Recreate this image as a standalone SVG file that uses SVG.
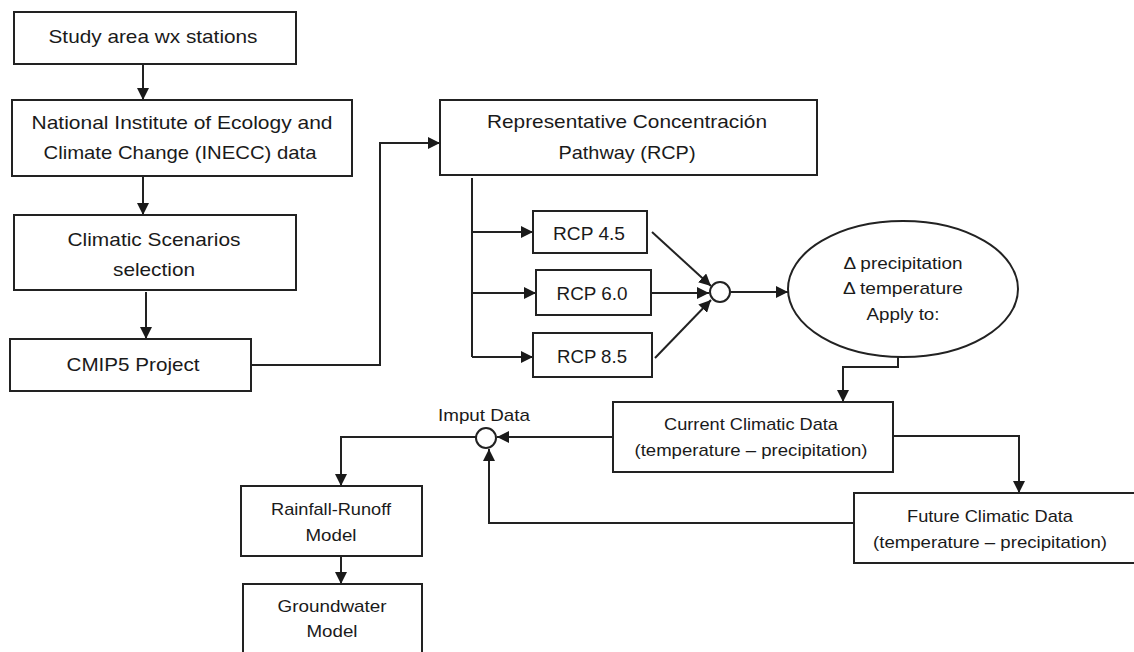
<svg xmlns="http://www.w3.org/2000/svg" width="1134" height="652" viewBox="0 0 1134 652">
<defs>
<marker id="ah" viewBox="0 0 12 12" refX="12" refY="6" markerWidth="12" markerHeight="12" markerUnits="userSpaceOnUse" orient="auto">
<path d="M0,0 L12,6 L0,12 z" fill="#1a1a1a"/>
</marker>
<style>
.box{fill:#fff;stroke:#222;stroke-width:2}
.c{fill:none;stroke:#222;stroke-width:2}
.a{fill:none;stroke:#222;stroke-width:2;marker-end:url(#ah)}
text{font-family:"Liberation Sans",Arial,sans-serif;font-size:19px;fill:#1a1a1a;text-anchor:middle}
.s{font-size:17px}
</style>
</defs>
<rect width="1134" height="652" fill="#fff"/>
<g id="connectors">
<line class="a" x1="143" y1="64" x2="143" y2="100"/>
<line class="a" x1="143" y1="176" x2="143" y2="215"/>
<line class="a" x1="146" y1="292" x2="146" y2="339"/>
<polyline class="a" points="251,365 380,365 380,143 440,143"/>
<line class="c" x1="472" y1="178" x2="472" y2="357"/>
<line class="a" x1="472" y1="232" x2="533" y2="232"/>
<line class="a" x1="472" y1="293" x2="536" y2="293"/>
<line class="a" x1="472" y1="357" x2="533" y2="357"/>
<line class="a" x1="652" y1="232" x2="711" y2="286"/>
<line class="a" x1="651" y1="293" x2="709" y2="293"/>
<line class="a" x1="655" y1="358" x2="711" y2="300"/>
<line class="a" x1="731" y1="292" x2="788" y2="292"/>
<polyline class="a" points="898,357 898,367 843,367 843,402"/>
<polyline class="a" points="893,436 1019,436 1019,493"/>
<line class="a" x1="613" y1="437" x2="497" y2="437"/>
<polyline class="a" points="854,523 489,523 489,449"/>
<polyline class="a" points="476,437 341,437 341,486"/>
<line class="a" x1="341" y1="556" x2="341" y2="584"/>
</g>
<g id="n-study"><rect class="box" x="14" y="12" width="282" height="52"/><text x="153" y="43" textLength="209" lengthAdjust="spacingAndGlyphs">Study area wx stations</text></g>
<g id="n-inecc"><rect class="box" x="12" y="100" width="340" height="76"/><text x="182" y="129" textLength="301" lengthAdjust="spacingAndGlyphs">National Institute of Ecology and</text><text x="180" y="159" textLength="273" lengthAdjust="spacingAndGlyphs">Climate Change (INECC) data</text></g>
<g id="n-scen"><rect class="box" x="14" y="215" width="282" height="75"/><text x="154" y="246" textLength="173" lengthAdjust="spacingAndGlyphs">Climatic Scenarios</text><text x="154" y="276" textLength="82" lengthAdjust="spacingAndGlyphs">selection</text></g>
<g id="n-cmip5"><rect class="box" x="10" y="339" width="241" height="52"/><text x="133" y="371" textLength="133" lengthAdjust="spacingAndGlyphs">CMIP5 Project</text></g>
<g id="n-rcp"><rect class="box" x="440" y="100" width="377" height="75"/><text x="627" y="128" textLength="280" lengthAdjust="spacingAndGlyphs">Representative Concentración</text><text x="627" y="159" textLength="137" lengthAdjust="spacingAndGlyphs">Pathway (RCP)</text></g>
<g id="n-rcp45"><rect class="box" x="533" y="211" width="114" height="42"/><text x="589" y="240" textLength="72" lengthAdjust="spacingAndGlyphs">RCP 4.5</text></g>
<g id="n-rcp60"><rect class="box" x="536" y="270" width="115" height="45"/><text x="592" y="300" textLength="71" lengthAdjust="spacingAndGlyphs">RCP 6.0</text></g>
<g id="n-rcp85"><rect class="box" x="533" y="333" width="119" height="44"/><text x="592" y="363" textLength="70" lengthAdjust="spacingAndGlyphs">RCP 8.5</text></g>
<g id="n-join1"><circle cx="720" cy="292" r="10" fill="#fff" stroke="#222" stroke-width="2"/></g>
<g id="n-delta"><ellipse cx="903" cy="289" rx="115" ry="68" fill="#fff" stroke="#222" stroke-width="2"/><text class="s" x="903" y="269" textLength="119" lengthAdjust="spacingAndGlyphs">Δ precipitation</text><text class="s" x="903" y="294" textLength="120" lengthAdjust="spacingAndGlyphs">Δ temperature</text><text class="s" x="903" y="320" textLength="73" lengthAdjust="spacingAndGlyphs">Apply to:</text></g>
<g id="n-current"><rect class="box" x="613" y="402" width="280" height="70"/><text class="s" x="751" y="430" textLength="174" lengthAdjust="spacingAndGlyphs">Current Climatic Data</text><text class="s" x="751" y="456" textLength="233" lengthAdjust="spacingAndGlyphs">(temperature – precipitation)</text></g>
<g id="n-future"><rect class="box" x="854" y="493" width="282" height="70"/><text class="s" x="990" y="522" textLength="166" lengthAdjust="spacingAndGlyphs">Future Climatic Data</text><text class="s" x="990" y="548" textLength="234" lengthAdjust="spacingAndGlyphs">(temperature – precipitation)</text></g>
<g id="n-input"><circle cx="486" cy="438" r="10" fill="#fff" stroke="#222" stroke-width="2"/><text class="s" x="484" y="421" textLength="92" lengthAdjust="spacingAndGlyphs">Imput Data</text></g>
<g id="n-rainfall"><rect class="box" x="241" y="486" width="181" height="70"/><text class="s" x="331" y="515" textLength="120" lengthAdjust="spacingAndGlyphs">Rainfall-Runoff</text><text class="s" x="331" y="541" textLength="51" lengthAdjust="spacingAndGlyphs">Model</text></g>
<g id="n-groundwater"><rect class="box" x="243" y="584" width="179" height="80"/><text class="s" x="332" y="612" textLength="109" lengthAdjust="spacingAndGlyphs">Groundwater</text><text class="s" x="332" y="637" textLength="51" lengthAdjust="spacingAndGlyphs">Model</text></g>
</svg>
